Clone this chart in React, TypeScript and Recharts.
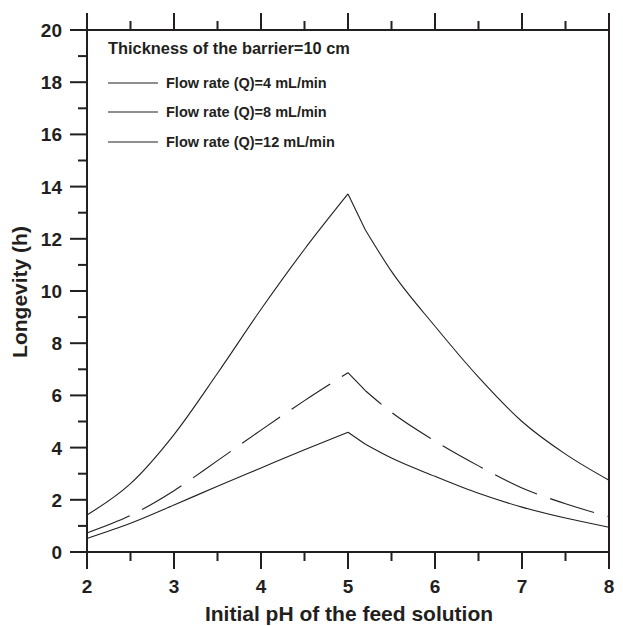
import React from "react";
import { Legend, Line, LineChart, XAxis, YAxis } from "recharts";

// pH of the feed solution vs longevity (h) for a 10 cm barrier
const phValues = [2, 2.5, 3, 3.5, 4, 4.5, 5, 5.2, 5.5, 6, 6.5, 7, 7.5, 8];
const longevityQ4 = [1.42, 2.62, 4.5, 6.85, 9.3, 11.6, 13.72, 12.34, 10.75, 8.65, 6.7, 5.0, 3.75, 2.75];
const longevityQ8 = [0.73, 1.4, 2.35, 3.5, 4.67, 5.8, 6.87, 6.18, 5.35, 4.25, 3.3, 2.45, 1.85, 1.35];
const longevityQ12 = [0.52, 1.1, 1.8, 2.52, 3.22, 3.92, 4.59, 4.13, 3.6, 2.9, 2.25, 1.72, 1.3, 0.95];

const seriesNames = ["Flow rate (Q)=4 mL/min", "Flow rate (Q)=8 mL/min", "Flow rate (Q)=12 mL/min"];

const xTicks = [2, 2.5, 3, 3.5, 4, 4.5, 5, 5.5, 6, 6.5, 7, 7.5, 8];
const xTickLabels = [2, 3, 4, 5, 6, 7, 8];
const yTicks = [0, 1, 2, 3, 4, 5, 6, 7, 8, 9, 10, 11, 12, 13, 14, 15, 16, 17, 18, 19, 20];
const yTickLabels = [0, 2, 4, 6, 8, 10, 12, 14, 16, 18, 20];

const legendTitle = "Thickness of the barrier=10 cm";

// peak at pH 5, slope break at pH 5.2: each curve is drawn in three pieces
const peakAt = phValues.indexOf(5);
const breakAt = phValues.indexOf(5.2);

function piece(vals: number[], i: number, from: number, to: number) {
  return i >= from && i <= to ? vals[i] : undefined;
}

const rows = phValues.map((ph, i) => {
  const last = phValues.length - 1;
  return {
    ph,
    q4a: piece(longevityQ4, i, 0, peakAt),
    q4b: piece(longevityQ4, i, peakAt, breakAt),
    q4c: piece(longevityQ4, i, breakAt, last),
    q8a: piece(longevityQ8, i, 0, peakAt),
    q8b: piece(longevityQ8, i, peakAt, breakAt),
    q8c: piece(longevityQ8, i, breakAt, last),
    q12a: piece(longevityQ12, i, 0, peakAt),
    q12b: piece(longevityQ12, i, peakAt, breakAt),
    q12c: piece(longevityQ12, i, breakAt, last),
  };
});

const INK = "#231f20";
const FONT = "'Liberation Sans', Arial, Helvetica, sans-serif";
const MAJOR = 17;
const MINOR = 9;

function BottomTick(props: any) {
  const { x, y, payload } = props;
  const major = xTickLabels.includes(payload.value);
  return (
    <g>
      <line x1={x} y1={y} x2={x} y2={y + (major ? MAJOR : MINOR)} stroke={INK} strokeWidth={2} />
      {major && (
        <text x={x} y={y + 41} textAnchor="middle" fontFamily={FONT} fontWeight="bold" fontSize={19} fill={INK}>
          {payload.value}
        </text>
      )}
    </g>
  );
}

function TopTick(props: any) {
  const { x, y, payload } = props;
  const major = xTickLabels.includes(payload.value);
  return <line x1={x} y1={y} x2={x} y2={y - (major ? MAJOR : MINOR)} stroke={INK} strokeWidth={2} />;
}

function LeftTick(props: any) {
  const { x, y, payload } = props;
  const major = yTickLabels.includes(payload.value);
  return (
    <g>
      <line x1={x} y1={y} x2={x - (major ? MAJOR : MINOR)} y2={y} stroke={INK} strokeWidth={2} />
      {major && (
        <text x={x - 25} y={y + 7} textAnchor="end" fontFamily={FONT} fontWeight="bold" fontSize={19} fill={INK}>
          {payload.value}
        </text>
      )}
    </g>
  );
}

function RightTick(props: any) {
  const { x, y, payload } = props;
  const major = yTickLabels.includes(payload.value);
  return <line x1={x} y1={y} x2={x + (major ? MAJOR : MINOR)} y2={y} stroke={INK} strokeWidth={2} />;
}

function XTitle() {
  return (
    <text x={349} y={621} textAnchor="middle" fontFamily={FONT} fontWeight="bold" fontSize={21} fill={INK}>
      Initial pH of the feed solution
    </text>
  );
}

function YTitle() {
  return (
    <text
      x={0}
      y={0}
      transform="translate(27 292) rotate(-90)"
      textAnchor="middle"
      fontFamily={FONT}
      fontWeight="bold"
      fontSize={21}
      fill={INK}
    >
      Longevity (h)
    </text>
  );
}

function LegendBox() {
  return (
    <div style={{ fontFamily: FONT, fontWeight: "bold", color: INK }}>
      <div style={{ fontSize: 16.4, lineHeight: "20px", height: 20, whiteSpace: "nowrap" }}>{legendTitle}</div>
      <div style={{ height: 10 }} />
      {seriesNames.map((name) => (
        <div key={name} style={{ display: "flex", alignItems: "center", height: 29.5, whiteSpace: "nowrap" }}>
          <svg width={58} height={4} style={{ display: "block" }}>
            <line x1={0} y1={2} x2={50} y2={2} stroke={INK} strokeWidth={1.2} />
          </svg>
          <span style={{ fontSize: 14.5 }}>{name}</span>
        </div>
      ))}
    </div>
  );
}

const pieces = [
  { key: "q4a", type: "monotone", dash: undefined, offset: 0 },
  { key: "q4b", type: "linear", dash: undefined, offset: 0 },
  { key: "q4c", type: "monotone", dash: undefined, offset: 0 },
  { key: "q8a", type: "monotone", dash: "46 14", offset: 0 },
  { key: "q8b", type: "linear", dash: "46 14", offset: 0 },
  { key: "q8c", type: "monotone", dash: "46 14", offset: 25 },
  { key: "q12a", type: "monotone", dash: undefined, offset: 0 },
  { key: "q12b", type: "linear", dash: undefined, offset: 0 },
  { key: "q12c", type: "monotone", dash: undefined, offset: 0 },
];

export default function App() {
  return (
    <div style={{ position: "absolute", left: 0, top: 0, background: "#fff" }}>
      <LineChart width={623} height={626} data={rows} margin={{ top: 0, right: 0, bottom: 0, left: 0 }}>
        <XAxis
          dataKey="ph"
          type="number"
          domain={[2, 8]}
          ticks={xTicks}
          interval={0}
          height={74}
          tickSize={0}
          tickMargin={0}
          tickLine={false}
          axisLine={{ stroke: INK, strokeWidth: 2 }}
          tick={<BottomTick />}
          label={<XTitle />}
        />
        <XAxis
          xAxisId="top"
          orientation="top"
          dataKey="ph"
          type="number"
          domain={[2, 8]}
          ticks={xTicks}
          interval={0}
          height={30}
          tickSize={0}
          tickMargin={0}
          tickLine={false}
          axisLine={{ stroke: INK, strokeWidth: 2 }}
          tick={<TopTick />}
        />
        <YAxis
          type="number"
          domain={[0, 20]}
          ticks={yTicks}
          interval={0}
          width={87}
          tickSize={0}
          tickMargin={0}
          tickLine={false}
          axisLine={{ stroke: INK, strokeWidth: 2 }}
          tick={<LeftTick />}
          label={<YTitle />}
        />
        <YAxis
          yAxisId="right"
          orientation="right"
          type="number"
          domain={[0, 20]}
          ticks={yTicks}
          interval={0}
          width={14}
          tickSize={0}
          tickMargin={0}
          tickLine={false}
          axisLine={{ stroke: INK, strokeWidth: 2 }}
          tick={<RightTick />}
        />
        <Legend
          layout="vertical"
          align="center"
          verticalAlign="middle"
          content={<LegendBox />}
          wrapperStyle={{ left: 108, top: 38, width: 320 }}
        />
        {pieces.map((p) => (
          <Line
            key={p.key}
            type={p.type as any}
            dataKey={p.key}
            stroke={INK}
            strokeWidth={1.1}
            strokeDasharray={p.dash}
            strokeDashoffset={p.offset}
            dot={false}
            legendType="none"
            isAnimationActive={false}
          />
        ))}
      </LineChart>
    </div>
  );
}
